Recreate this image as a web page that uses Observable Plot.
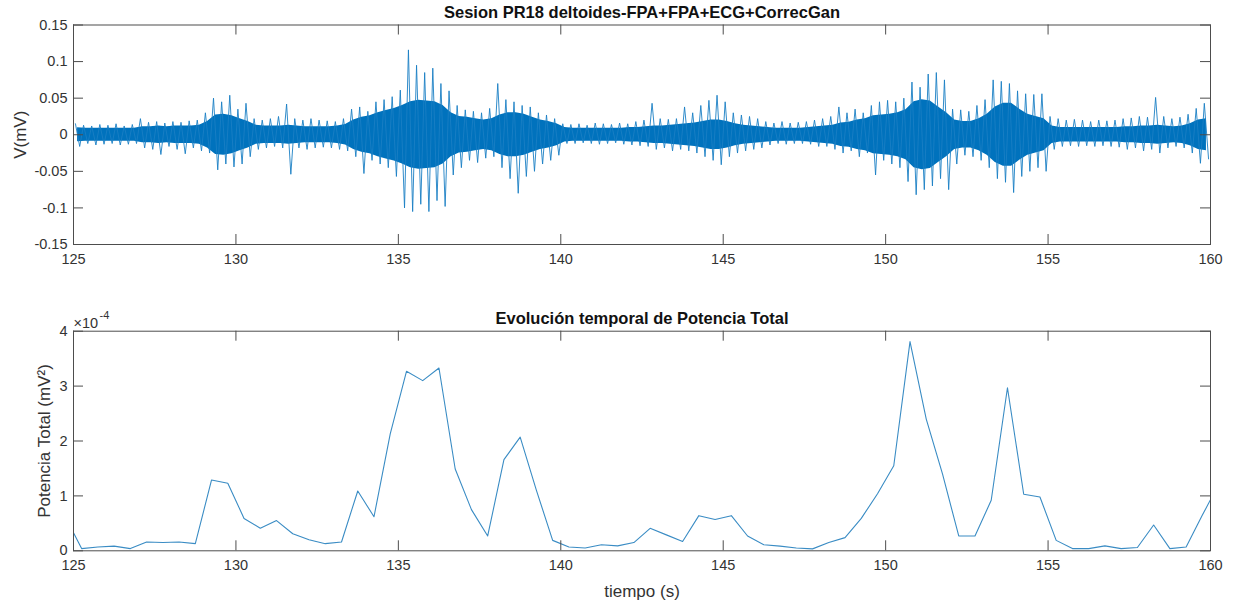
<!DOCTYPE html>
<html>
<head>
<meta charset="utf-8">
<script src="https://cdn.jsdelivr.net/npm/d3@7"></script>
<script src="https://cdn.jsdelivr.net/npm/@observablehq/plot@0.6"></script>
<style>
html, body { margin: 0; padding: 0; background: #fff; }
#chart { width: 1237px; height: 605px; font-family: "Liberation Sans", Arial, Helvetica, sans-serif; }
#chart svg { display: block; }
</style>
</head>
<body>
<div id="chart"></div>
<script>
// ---------- Top panel: EMG signal, read as envelope per 0.25 s bin ----------
const sigStart = 125;
const sigStep = 0.25;
// highest positive excursion in each bin (mV)
const sigHi = [
  .015,.013,.012,.014, .013,.015,.012,.014, .022,.017,.018,.016, .018,.017,.019,.020,
  .030,.050,.045,.054, .035,.043,.022,.020, .022,.025,.042,.022, .020,.022,.020,.019,
  .018,.022,.035,.038, .032,.045,.048,.052, .061,.116,.095,.085, .091,.070,.060,.040,
  .034,.032,.030,.036, .070,.048,.045,.040, .038,.030,.027,.022, .015,.014,.015,.013,
  .016,.015,.014,.016, .015,.018,.020,.043, .022,.021,.022,.038, .030,.040,.047,.054,
  .045,.030,.027,.025, .022,.018,.016,.018, .016,.017,.018,.020, .022,.025,.038,.030,
  .035,.030,.040,.045, .047,.045,.050,.072, .065,.083,.085,.075, .035,.034,.032,.040,
  .048,.075,.073,.070, .060,.056,.055,.056, .025,.022,.020,.021, .020,.018,.020,.019,
  .020,.022,.023,.025, .024,.051,.025,.022, .024,.028,.036,.043
];
// lowest negative excursion in each bin (mV)
const sigLo = [
  -.016,-.012,-.014,-.013, -.012,-.014,-.013,-.012, -.018,-.020,-.027,-.016, -.020,-.026,-.018,-.022,
  -.025,-.048,-.040,-.044, -.040,-.030,-.020,-.018, -.016,-.018,-.054,-.018, -.020,-.018,-.017,-.018,
  -.020,-.022,-.030,-.053, -.035,-.040,-.045,-.057, -.100,-.105,-.095,-.105, -.090,-.098,-.055,-.045,
  -.035,-.038,-.032,-.030, -.045,-.060,-.080,-.057, -.050,-.040,-.035,-.028, -.012,-.012,-.011,-.012,
  -.013,-.012,-.011,-.013, -.014,-.015,-.016,-.020, -.018,-.022,-.020,-.022, -.025,-.030,-.035,-.041,
  -.030,-.025,-.022,-.020, -.018,-.014,-.012,-.013, -.012,-.012,-.013,-.016, -.016,-.020,-.025,-.022,
  -.030,-.025,-.055,-.035, -.040,-.045,-.064,-.082, -.075,-.070,-.060,-.075, -.040,-.028,-.030,-.035,
  -.045,-.060,-.065,-.079, -.057,-.050,-.045,-.050, -.020,-.016,-.015,-.016, -.015,-.016,-.015,-.016,
  -.017,-.020,-.018,-.022, -.020,-.025,-.018,-.016, -.018,-.025,-.039,-.033
];
// half-width of the dense solid core in each bin (mV)
const sigCore = [
  .0095,.009,.009,.009, .009,.009,.009,.009, .011,.011,.012,.011, .012,.012,.012,.013,
  .018,.027,.028,.026, .022,.018,.013,.012, .012,.012,.013,.012, .011,.011,.011,.011,
  .012,.014,.020,.024, .026,.030,.033,.036, .040,.045,.047,.046, .045,.040,.030,.025,
  .024,.022,.020,.022, .027,.030,.030,.028, .024,.020,.018,.015, .010,.009,.009,.009,
  .009,.009,.009,.009, .010,.010,.011,.012, .012,.013,.014,.015, .016,.018,.020,.020,
  .018,.015,.013,.012, .011,.010,.009,.009, .009,.009,.010,.011, .012,.013,.016,.017,
  .020,.022,.026,.027, .028,.030,.034,.045, .048,.046,.038,.030, .020,.018,.018,.022,
  .028,.038,.043,.043, .035,.028,.025,.022, .012,.010,.010,.010, .010,.010,.010,.010,
  .010,.011,.011,.012, .012,.013,.012,.011, .012,.015,.020,.022
];

// ---------- Bottom panel: total power (units of 1e-4 mV^2) ----------
const powT = [
  125, 125.25, 125.75, 126.25, 126.75, 127.25, 127.75, 128.25, 128.75, 129.25, 129.75,
  130.25, 130.75, 131.25, 131.75, 132.25, 132.75, 133.25, 133.75, 134.25, 134.75,
  135.25, 135.75, 136.25, 136.75, 137.25, 137.75, 138.25, 138.75, 139.25, 139.75,
  140.25, 140.75, 141.25, 141.75, 142.25, 142.75, 143.25, 143.75, 144.25, 144.75,
  145.25, 145.75, 146.25, 146.75, 147.25, 147.75, 148.25, 148.75, 149.25, 149.75,
  150.25, 150.75, 151.25, 151.75, 152.25, 152.75, 153.25, 153.75, 154.25, 154.75,
  155.25, 155.75, 156.25, 156.75, 157.25, 157.75, 158.25, 158.75, 159.25, 159.75, 160
];
const powV = [
  0.33, 0.04, 0.07, 0.085, 0.04, 0.16, 0.15, 0.16, 0.13, 1.29, 1.23,
  0.59, 0.41, 0.55, 0.31, 0.20, 0.13, 0.16, 1.09, 0.62, 2.13,
  3.27, 3.10, 3.33, 1.49, 0.75, 0.27, 1.66, 2.07, 1.10, 0.19,
  0.07, 0.05, 0.11, 0.09, 0.15, 0.41, 0.29, 0.17, 0.64, 0.57,
  0.64, 0.27, 0.11, 0.085, 0.05, 0.035, 0.15, 0.24, 0.59, 1.04,
  1.55, 3.81, 2.40, 1.40, 0.27, 0.27, 0.92, 2.97, 1.03, 0.98,
  0.19, 0.04, 0.04, 0.09, 0.04, 0.06, 0.47, 0.04, 0.07, 0.65, 0.93
];

// ---------- Axis ticks and texts ----------
const xTicks = [125, 130, 135, 140, 145, 150, 155, 160];
const yTicksTop = [-0.15, -0.1, -0.05, 0, 0.05, 0.1, 0.15];
const yTicksBottom = [0, 1, 2, 3, 4];
const titleTop = "Sesion PR18 deltoides-FPA+FPA+ECG+CorrecGan";
const titleBottom = "Evolución temporal de Potencia Total";
const yLabelTop = "V(mV)";
const yLabelBottom = "Potencia Total (mV²)";
const xLabelBottom = "tiempo (s)";
const expBase = "×10";
const expPow = "-4";

// ---------- build tables ----------
const zig = [];
const core = [];
sigHi.forEach((h, i) => {
  const t0 = sigStart + sigStep * i;
  zig.push({t: t0 + 0.06, v: h});
  zig.push({t: t0 + 0.19, v: sigLo[i]});
  core.push({t: t0 + 0.125, lo: -sigCore[i], hi: sigCore[i]});
});
const powRows = powT.map((t, i) => ({t, v: powV[i]}));

const BLUE = "#0072BD";
const AX = "#4d4d4d";
const FONT = "'Liberation Sans', Arial, Helvetica, sans-serif";
const tickFont = 14.5, labelFont = 17, titleFont = 16.5;
const W = 1237, ML = 73, MR = 27;
const FW = W - ML - MR;
const TL = 10; // inward tick length

function axesMarks(yTicks, FH, fmt) {
  return [
    Plot.frame({stroke: AX, strokeWidth: 1}),
    Plot.ruleX(xTicks, {x: d => d, insetTop: FH - TL, stroke: AX}),
    Plot.ruleX(xTicks, {x: d => d, insetBottom: FH - TL, stroke: AX}),
    Plot.ruleY(yTicks, {y: d => d, insetRight: FW - TL, stroke: AX}),
    Plot.ruleY(yTicks, {y: d => d, insetLeft: FW - TL, stroke: AX}),
    Plot.axisX(xTicks, {anchor: "bottom", tickSize: 0, tickPadding: 9, fontSize: tickFont, fill: "#333", label: null}),
    Plot.axisY(yTicks, {anchor: "left", tickSize: 0, tickPadding: 6, fontSize: tickFont, fill: "#333", tickFormat: fmt, label: null})
  ];
}

const topH = 290, topMT = 24.5, topMB = 46;
const topChart = Plot.plot({
  width: W, height: topH,
  marginLeft: ML, marginRight: MR, marginTop: topMT, marginBottom: topMB,
  style: {fontFamily: FONT, background: "white", color: "#333"},
  x: {domain: [125, 160]},
  y: {domain: [-0.15, 0.15]},
  marks: [
    Plot.areaY(core, {x: "t", y1: "lo", y2: "hi", fill: BLUE, clip: true}),
    Plot.line(zig, {x: "t", y: "v", stroke: "#1a7fc4", strokeWidth: 0.9, clip: true}),
    ...axesMarks(yTicksTop, topH - topMT - topMB, d => String(d)),
    Plot.text([titleTop], {frameAnchor: "top", lineAnchor: "middle", dy: -12, fontWeight: "bold", fontSize: titleFont, fill: "#111"}),
    Plot.text([yLabelTop], {frameAnchor: "left", textAnchor: "middle", lineAnchor: "middle", rotate: -90, dx: -53, fontSize: labelFont, fill: "#333"})
  ]
});

const botH = 315, botMT = 40.7, botMB = 54.7;
const bottomChart = Plot.plot({
  width: W, height: botH,
  marginLeft: ML, marginRight: MR, marginTop: botMT, marginBottom: botMB,
  style: {fontFamily: FONT, background: "white", color: "#333"},
  x: {domain: [125, 160]},
  y: {domain: [0, 4]},
  marks: [
    Plot.line(powRows, {x: "t", y: "v", stroke: "#3a8cc4", strokeWidth: 1.1, clip: true}),
    ...axesMarks(yTicksBottom, botH - botMT - botMB, d => String(d)),
    Plot.text([titleBottom], {frameAnchor: "top", lineAnchor: "middle", dy: -12, fontWeight: "bold", fontSize: titleFont, fill: "#111"}),
    Plot.text([yLabelBottom], {frameAnchor: "left", textAnchor: "middle", lineAnchor: "middle", rotate: -90, dx: -29, fontSize: labelFont, fill: "#333"}),
    Plot.text([xLabelBottom], {frameAnchor: "bottom", lineAnchor: "middle", dy: 40.4, fontSize: labelFont, fill: "#333"}),
    Plot.text([expBase], {frameAnchor: "top-left", textAnchor: "start", lineAnchor: "middle", dx: 0, dy: -8, fontSize: tickFont, fill: "#333"}),
    Plot.text([expPow], {frameAnchor: "top-left", textAnchor: "start", lineAnchor: "middle", dx: 26, dy: -15.5, fontSize: 11, fill: "#333"})
  ]
});

const root = document.getElementById("chart");
root.appendChild(topChart);
root.appendChild(bottomChart);
</script>
</body>
</html>
